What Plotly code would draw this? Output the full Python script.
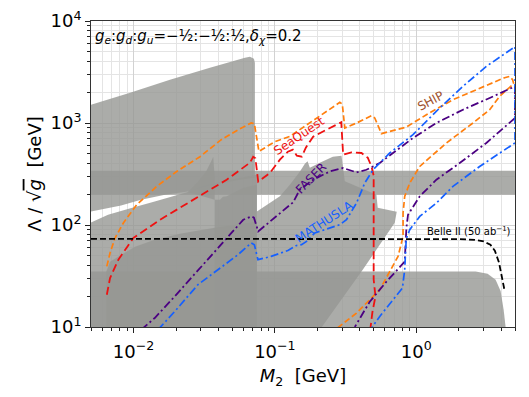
import math
import plotly.graph_objects as go

# ---------------- sensitivity curves: M2 [GeV] vs Lambda/sqrt(g) [GeV] ----------------
ship_m = [0.00647, 0.00682, 0.0074, 0.00847, 0.01053, 0.01459, 0.0202, 0.0295, 0.04174, 0.0566,
          0.068, 0.0716, 0.0771, 0.1, 0.1276, 0.1865, 0.2446, 0.288, 0.300, 0.3124,
          0.378, 0.4826, 0.509, 0.5676, 0.8524, 1.181, 1.82, 2.52, 3.49, 4.22,
          4.58, 4.81, 4.9, 3.89, 3.31, 2.52, 1.635, 1.059, 0.90, 0.829,
          0.807, 0.807, 0.7436, 0.552, 0.378, 0.2788]
ship_l = [39.3, 53.2, 74.6, 104.7, 158, 239, 335, 467, 686, 879,
          1000, 984, 527, 656, 739, 1053, 1350, 1592, 1529, 893,
          1000, 1179, 1119, 786, 913, 1206, 1692, 2041, 2500, 2781,
          2864, 2658, 2428, 1823, 1350, 1000, 637, 375, 258, 191,
          131, 77.3, 49.2, 23.2, 13.7, 9.84]

seaquest_m = [0.00647, 0.00682, 0.00781, 0.00997, 0.0154, 0.02646, 0.0456, 0.0666, 0.0702, 0.0728,
              0.0762, 0.0922, 0.1085, 0.1236, 0.134, 0.143, 0.155, 0.1656, 0.1865, 0.232,
              0.2788, 0.295, 0.304, 0.348, 0.41, 0.454, 0.4826, 0.50, 0.50, 0.515,
              0.49, 0.475]
seaquest_l = [20.7, 30.2, 45.7, 74.6, 112.7, 177, 278, 408, 467, 452,
              266, 323.6, 437, 523, 547, 478, 467, 573, 734, 860,
              973, 1018, 489, 515, 508, 457, 375, 304, 29.1, 19.95,
              14.1, 9.84]

faser_m = [0.01135, 0.01412, 0.01955, 0.03014, 0.04174, 0.0519, 0.0597, 0.0682, 0.0711, 0.0762,
           0.1028, 0.1347, 0.150, 0.1865, 0.2446, 0.304, 0.378, 0.4446, 0.552, 0.6855,
           0.949, 1.389, 2.141, 3.31, 5.0, 5.0, 3.134, 2.03, 1.389, 1.059,
           0.949, 0.875, 0.8524, 0.829, 0.6157, 0.469, 0.3676]
faser_l = [9.41, 12.25, 19.95, 39.3, 65.4, 89.9, 112.5, 121.4, 118, 86.6,
           121.4, 167, 222, 278, 335, 362, 328, 348, 405, 508,
           713, 1000, 1350, 1759, 2285, 1119, 637, 405, 278, 191,
           152, 126, 94.1, 43.7, 27.8, 17.7, 10]

mathusla_m = [0.0149, 0.01955, 0.02856, 0.03956, 0.0548, 0.068, 0.0716, 0.0759, 0.0941, 0.1236,
              0.1423, 0.1544, 0.1675, 0.1917, 0.2446, 0.288, 0.321, 0.378, 0.4325, 0.495,
              0.65, 0.949, 1.466, 2.141, 3.134, 5.0, 5.0, 2.81, 1.82, 1.389,
              1.059, 0.90, 0.85, 0.829, 0.799, 0.552, 0.485]
mathusla_l = [9.41, 14.2, 26.0, 36.5, 51.1, 66.6, 64.1, 45.7, 49.2, 56.2,
              63.0, 64.1, 69.1, 83.5, 93.4, 100.7, 112.7, 164, 258, 348,
              508, 768, 1403, 2285, 3589, 5598, 637, 375, 239, 164,
              121.4, 89.9, 73.2, 36.5, 24.1, 12.7, 9.84]

belle_m = [0.005, 1.0, 2.0, 2.6, 3.0, 3.35, 3.6, 3.85, 4.05, 4.2]
belle_l = [73.1, 73.1, 72.8, 71.5, 69, 64, 56, 43, 31, 23.5]

# ---------------- excluded regions (gray) ----------------
band_m = [0.005, 5.0, 5.0, 0.005]
band_l = [198, 198, 341, 341]

region_a_m = [0.005, 0.00945, 0.0181, 0.0347, 0.0614, 0.0666, 0.0711, 0.0722, 0.0722, 0.0566,
              0.0347, 0.02428, 0.0167, 0.0113, 0.00816, 0.005]
region_a_l = [1512, 1982, 2658, 3485, 4368, 4467, 4270, 3901, 291, 278,
              243, 213.5, 198, 177, 155, 136]

region_b_m = [0.005, 0.0066, 0.00965, 0.01412, 0.01955, 0.02428, 0.0295, 0.0481, 0.0746, 0.0746, 0.005]
region_b_l = [106, 126, 147, 170, 194, 211, 237, 278, 311, 10, 10]

region_d_m = [0.00642, 0.00642, 0.00682, 0.0082, 0.01025, 0.01412, 0.0213, 0.0375, 0.0746, 0.0746]
region_d_l = [10, 35.1, 43.7, 51.1, 61.3, 71.8, 82.2, 94.1, 107.7, 10]

region_e_m = [0.02428, 0.02856, 0.03254, 0.0353, 0.03664, 0.0375, 0.0375]
region_e_l = [211, 266, 333, 417, 467, 291, 177]

region_g_m = [0.0375, 0.0409, 0.0429, 0.0456, 0.0597, 0.0746, 0.0746, 0.0375]
region_g_l = [177, 177, 189.5, 191, 231, 248, 10, 10]

region_c_m = [0.0746, 0.1085, 0.1276, 0.150, 0.163, 0.1703, 0.1768, 0.208, 0.257, 0.296,
              0.304, 0.3124, 0.5233, 0.534, 0.728, 0.705, 0.4186, 0.215, 0.0746]
region_c_l = [136, 191, 248, 333, 399, 422, 365, 408, 467, 478,
              365, 268, 198, 148, 135, 105, 36.5, 10, 10]

region_f_m = [0.005, 2.633, 3.20, 3.645, 3.955, 4.155, 4.29, 0.005]
region_f_l = [35.1, 35.1, 33.3, 29.1, 22.6, 14.8, 10, 10]

# ---------------- axis ticks ----------------
x_ticks = [0.01, 0.1, 1]
x_ticktext = ["10<sup>−2</sup>", "10<sup>−1</sup>", "10<sup>0</sup>"]
y_ticks = [10, 100, 1000, 10000]
y_ticktext = ["10<sup>1</sup>", "10<sup>2</sup>", "10<sup>3</sup>", "10<sup>4</sup>"]

GRAY = "rgba(150,151,148,0.8)"
FONT = "DejaVu Sans"

fig = go.Figure()

regions = [
    (band_m, band_l), (region_a_m, region_a_l), (region_b_m, region_b_l),
    (region_d_m, region_d_l), (region_e_m, region_e_l), (region_g_m, region_g_l),
    (region_c_m, region_c_l), (region_f_m, region_f_l),
]
for m, lam in regions:
    fig.add_trace(go.Scatter(x=m, y=lam, mode="lines", fill="toself", fillcolor=GRAY,
                             line=dict(width=0, simplify=False), hoverinfo="skip", showlegend=False))

curves = [
    (ship_m, ship_l, "#ff7f0e", "6px,3px", 1.7),
    (seaquest_m, seaquest_l, "#ee1111", "8px,4px", 1.8),
    (faser_m, faser_l, "#4b0082", "8px,3px,2px,3px", 1.8),
    (mathusla_m, mathusla_l, "#1560ff", "8px,3px,2px,3px", 1.7),
    (belle_m, belle_l, "black", "6px,3px", 1.8),
]
for m, lam, color, dash, w in curves:
    fig.add_trace(go.Scatter(x=m, y=lam, mode="lines", line=dict(color=color, dash=dash, width=w),
                             hoverinfo="skip", showlegend=False))

labels = [
    ("SeaQuest", 0.1478, 750, -34, "#ee1111"),
    ("SHIP", 1.266, 1636, -28, "#a0522d"),
    ("FASER", 0.181, 291, -45, "#4b0082"),
    ("MATHUSLA", 0.222, 108, -33, "#1560ff"),
]
for txt, xm, yl, ang, col in labels:
    fig.add_annotation(x=math.log10(xm), y=math.log10(yl), text=txt, textangle=ang, showarrow=False,
                       font=dict(family=FONT, size=12, color=col))

fig.add_annotation(x=math.log10(4.85), y=math.log10(88), text="Belle II (50 ab<sup>−1</sup>)",
                   xanchor="right", showarrow=False, font=dict(family=FONT, size=10, color="black"))

fig.add_annotation(xref="paper", yref="paper", x=0.005, y=0.948, xanchor="left", yanchor="middle",
                   text="<i>g<sub>e</sub></i>:<i>g<sub>d</sub></i>:<i>g<sub>u</sub></i>=−½:−½:½,<i>δ<sub>χ</sub></i>=0.2",
                   showarrow=False, font=dict(family=FONT, size=15, color="black"))

minor_x = [k * 10.0 ** e for e in range(-3, 1) for k in range(2, 10)]
minor_y = [k * 10.0 ** e for e in range(1, 4) for k in range(2, 10)]

axis_common = dict(
    type="log", tickmode="array", ticks="outside", ticklen=5, tickcolor="#222", tickwidth=1,
    showline=True, mirror=True, linecolor="#333", linewidth=1, automargin=False,
    showgrid=True, gridcolor="#d2d2d2", gridwidth=1, zeroline=False, ticklabeloverflow="allow",
    tickfont=dict(family=FONT, size=18, color="black"),
)

fig.update_xaxes(range=[math.log10(0.005), math.log10(5)], tickvals=x_ticks, ticktext=x_ticktext,
                 ticklabelstandoff=3,
                 minor=dict(tickmode="array", tickvals=minor_x, ticks="outside", ticklen=3,
                            tickcolor="#222", showgrid=True, gridcolor="#e4e4e4", gridwidth=1),
                 title=dict(text="<i>M</i><sub>2</sub>  [GeV]", font=dict(family=FONT, size=18, color="black"),
                            standoff=9),
                 **axis_common)
fig.update_yaxes(range=[1, 4], tickvals=y_ticks, ticktext=y_ticktext,
                 minor=dict(tickmode="array", tickvals=minor_y, ticks="outside", ticklen=3,
                            tickcolor="#222", showgrid=True, gridcolor="#e4e4e4", gridwidth=1),
                 title=dict(text="Λ / √<span style='text-decoration:overline'><i>g</i></span>  [GeV]",
                            font=dict(family=FONT, size=18, color="black"), standoff=4),
                 **axis_common)

# the page body keeps its default 8px margin, so the figure is drawn 8px in from the corner
fig.update_layout(
    width=513, height=381,
    margin=dict(l=83, r=6, t=13, b=62),
    plot_bgcolor="white", paper_bgcolor="white",
    showlegend=False,
    font=dict(family=FONT),
)

fig.write_html("out.html")
